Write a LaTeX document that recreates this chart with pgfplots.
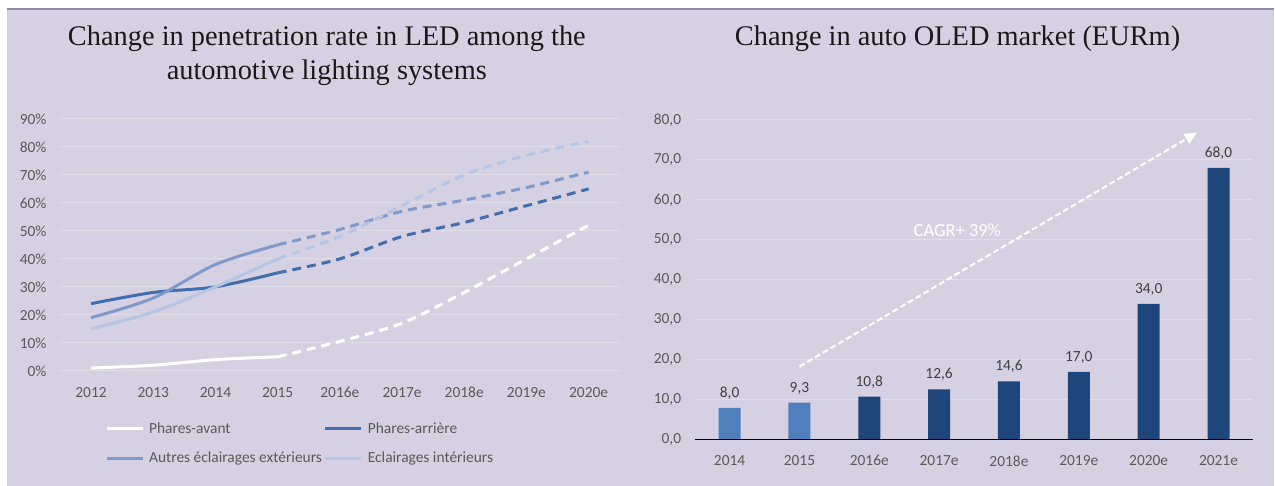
\documentclass[border=0pt]{standalone}
\usepackage{fontspec}
\setmainfont{Carlito}
\newfontfamily\titlefont{Liberation Serif}
\usepackage{pgfplots}
\pgfplotsset{compat=1.18}
\usetikzlibrary{arrows.meta}
\definecolor{bg}{RGB}{213,209,226}
\definecolor{gridc}{RGB}{224,221,232}
\definecolor{tickc}{RGB}{89,89,89}
\definecolor{valc}{RGB}{64,64,64}
\definecolor{c2}{RGB}{65,110,176}
\definecolor{c3}{RGB}{126,154,204}
\definecolor{c4}{RGB}{180,198,228}
\definecolor{barl}{RGB}{79,128,189}
\definecolor{bard}{RGB}{31,70,122}
\definecolor{topline}{RGB}{143,138,168}
\definecolor{baseline}{RGB}{160,170,200}
\begin{document}
\begin{tikzpicture}[x=1bp,y=1bp]
\fill[white] (0,0) rectangle (1275,486);
\fill[bg] (7,0) rectangle (1275,477);
\draw[topline, line width=1.2bp] (7,477) -- (1275,477);
\coordinate (LA) at (60,115);
\coordinate (RA) at (695,46);
\node[font=\titlefont\fontsize{28.5}{34}\selectfont, align=center, text=black!90] at (327,430) {Change in penetration rate in LED among the\\automotive lighting systems};
\node[font=\titlefont\fontsize{28.5}{34}\selectfont, text=black!90] at (958,447) {Change in auto OLED market (EURm)};

\begin{axis}[at={(LA)}, anchor=south west, scale only axis,
  width=560bp, height=252bp,
  xmin=-0.5, xmax=8.5, ymin=0, ymax=90,
  xtick={0,...,8},
  xticklabels={2012,2013,2014,2015,2016e,2017e,2018e,2019e,2020e},
  ytick={0,10,...,90},
  yticklabels={0\%,10\%,20\%,30\%,40\%,50\%,60\%,70\%,80\%,90\%},
  axis line style={draw=none}, major tick style={draw=none},
  ymajorgrids, grid style={gridc, line width=1bp},
  tick label style={font=\fontsize{15.5}{18}\selectfont, text=tickc},
  yticklabel style={xshift=-10bp},
  xticklabel style={yshift=-13bp},
  legend columns=2,
  legend cell align=left,
  legend style={draw=none, fill=none, at={(0.075,-0.19)}, anchor=north west,
    font=\fontsize{15.5}{18}\selectfont, text=tickc, row sep=13bp,
    /tikz/every odd column/.append style={column sep=3bp}},
  legend image code/.code={\draw[#1, solid] (0bp,0bp) -- (36bp,0bp);},
  every axis plot/.append style={line width=3bp, smooth},
]
\addplot[white] coordinates {(0,1) (1,2) (2,4) (3,5)};
\addlegendentry{Phares-avant}
\addplot[c2] coordinates {(0,24) (1,28) (2,30) (3,35)};
\addlegendentry{Phares-arrière}
\addplot[c3] coordinates {(0,19) (1,26) (2,38) (3,45)};
\addlegendentry{Autres éclairages extérieurs}
\addplot[c4] coordinates {(0,15) (1,21) (2,30) (3,40)};
\addlegendentry{Eclairages intérieurs}
\addplot[white, dash pattern=on 9bp off 6bp, forget plot] coordinates {(3,5) (4,10.5) (5,17) (6,28) (7,40) (8,52)};
\addplot[c2, dash pattern=on 9bp off 6bp, forget plot] coordinates {(3,35) (4,40) (5,48) (6,53) (7,59) (8,65)};
\addplot[c3, dash pattern=on 9bp off 6bp, forget plot] coordinates {(3,45) (4,50.5) (5,57) (6,61) (7,65.5) (8,71)};
\addplot[c4, dash pattern=on 9bp off 6bp, forget plot] coordinates {(3,40) (4,48) (5,59) (6,70) (7,77) (8,82)};
\end{axis}

\begin{axis}[at={(RA)}, anchor=south west, scale only axis,
  width=559bp, height=320bp,
  xmin=-0.5, xmax=7.5, ymin=0, ymax=80,
  xtick={0,...,7},
  xticklabels={2014,2015,2016e,2017e,2018e,2019e,2020e,2021e},
  ytick={0,10,...,80},
  /pgf/number format/assume math mode=true,
  yticklabel style={/pgf/number format/fixed, /pgf/number format/fixed zerofill, /pgf/number format/precision=1, /pgf/number format/use comma, xshift=-10bp},
  axis line style={draw=none}, major tick style={draw=none},
  ymajorgrids, grid style={gridc, line width=1bp},
  tick label style={font=\fontsize{15.5}{18}\selectfont, text=tickc},
  xticklabel style={yshift=-8bp},
  ybar, bar width=22bp,
  nodes near coords={\pgfmathprintnumber[fixed,fixed zerofill,precision=1,use comma,assume math mode=true]{\pgfplotspointmeta}},
  every node near coord/.append style={font=\fontsize{15.5}{18}\selectfont, text=valc, yshift=5bp},
]
\addplot[fill=barl, draw=none, bar shift=0pt] coordinates {(0,8.0) (1,9.3)};
\addplot[fill=bard, draw=none, bar shift=0pt] coordinates {(2,10.8) (3,12.6) (4,14.6) (5,17.0) (6,34.0) (7,68.0)};
\draw[baseline, line width=1.5bp] (axis cs:-0.5,0) -- (axis cs:7.5,0);
\draw[white, line width=2bp, dash pattern=on 6bp off 3bp, -{Triangle[length=12bp, width=11bp]}] (axis cs:1,18.3) -- (axis cs:6.69,76.8);
\node[text=white, font=\fontsize{18.5}{22}\selectfont] at (axis cs:3.26,52.5) {CAGR+ 39\%};
\end{axis}
\end{tikzpicture}
\end{document}
